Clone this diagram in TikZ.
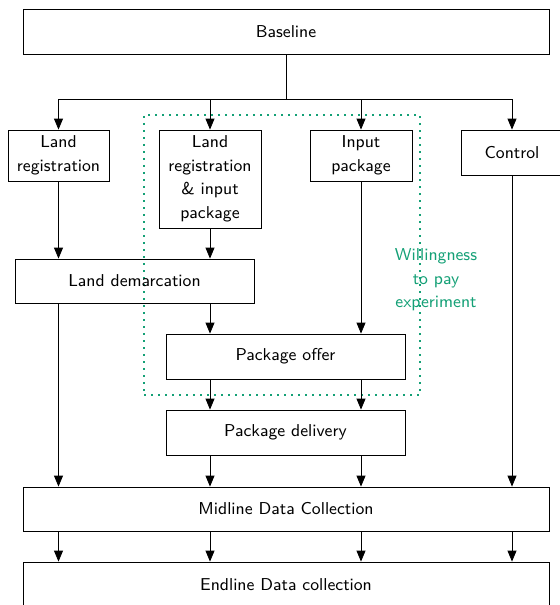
\documentclass[tikz,border=0pt]{standalone}
\usetikzlibrary{arrows.meta}
\definecolor{wtpgreen}{RGB}{20,160,118}
\begin{document}
\begin{tikzpicture}[x=0.5pt,y=-0.5pt,
  font=\sffamily\fontsize{8.6pt}{11.75pt}\selectfont,
  box/.style={draw=black,inner sep=0pt,align=center},
  flow/.style={-{Triangle[length=5.5pt,width=4.5pt]}},
  wtpbox/.style={draw=wtpgreen,line width=0.9pt,dash pattern=on 0.9pt off 2.6pt,inner sep=0pt},
  wtplabel/.style={text=wtpgreen,align=center}]
\clip (0,0) rectangle (560,605);
\useasboundingbox (0,0) rectangle (560,605);

% experiment frame
\node[wtpbox,minimum width=138pt,minimum height=140pt] (wtp) at (282,255) {};

% boxes
\node[box,minimum width=263pt,minimum height=22.5pt] (base) at (286,31.5) {Baseline};
\node[box,minimum width=50.5pt,minimum height=25.5pt] (lr) at (58.5,155.5) {Land\\registration};
\node[box,minimum width=51pt,minimum height=49pt] (lrip) at (210,179) {Land\\registration\\\& input\\package};
\node[box,minimum width=51pt,minimum height=25.5pt] (ip) at (361,155.5) {Input\\package};
\node[box,minimum width=51pt,minimum height=22.5pt] (ctl) at (512,152.5) {Control};
\node[box,minimum width=119.5pt,minimum height=22pt] (ld) at (134.5,281) {Land demarcation};
\node[box,minimum width=119.5pt,minimum height=22.5pt] (po) at (285.5,356.5) {Package offer};
\node[box,minimum width=119.5pt,minimum height=22.5pt] (pd) at (285.5,432.5) {Package delivery};
\node[box,minimum width=263pt,minimum height=22pt] (mid) at (286,509) {Midline Data Collection};
\node[box,minimum width=263pt,minimum height=22.5pt] (end) at (286,584.5) {Endline Data collection};

\node[wtplabel] (wtplab) at (436,280) {Willingness\\to pay\\experiment};

% split from baseline
\coordinate (split) at (286,99);
\draw (base.south) -- (split);
\draw (lr.north |- split) -- (ctl.north |- split);
\draw[flow] (lr.north |- split) -- (lr.north);
\draw[flow] (lrip.north |- split) -- (lrip.north);
\draw[flow] (ip.north |- split) -- (ip.north);
\draw[flow] (ctl.north |- split) -- (ctl.north);

% treatment arms
\draw[flow] (lr.south) -- (lr.south |- ld.north);
\draw[flow] (lrip.south) -- (lrip.south |- ld.north);
\draw[flow] (lrip.south |- ld.south) -- (lrip.south |- po.north);
\draw[flow] (ip.south) -- (ip.south |- po.north);
\draw[flow] (lrip.south |- po.south) -- (lrip.south |- pd.north);
\draw[flow] (ip.south |- po.south) -- (ip.south |- pd.north);

% to midline
\draw[flow] (lr.south |- ld.south) -- (lr.south |- mid.north);
\draw[flow] (lrip.south |- pd.south) -- (lrip.south |- mid.north);
\draw[flow] (ip.south |- pd.south) -- (ip.south |- mid.north);
\draw[flow] (ctl.south) -- (ctl.south |- mid.north);

% to endline
\draw[flow] (lr.south |- mid.south) -- (lr.south |- end.north);
\draw[flow] (lrip.south |- mid.south) -- (lrip.south |- end.north);
\draw[flow] (ip.south |- mid.south) -- (ip.south |- end.north);
\draw[flow] (ctl.south |- mid.south) -- (ctl.south |- end.north);
\end{tikzpicture}
\end{document}
